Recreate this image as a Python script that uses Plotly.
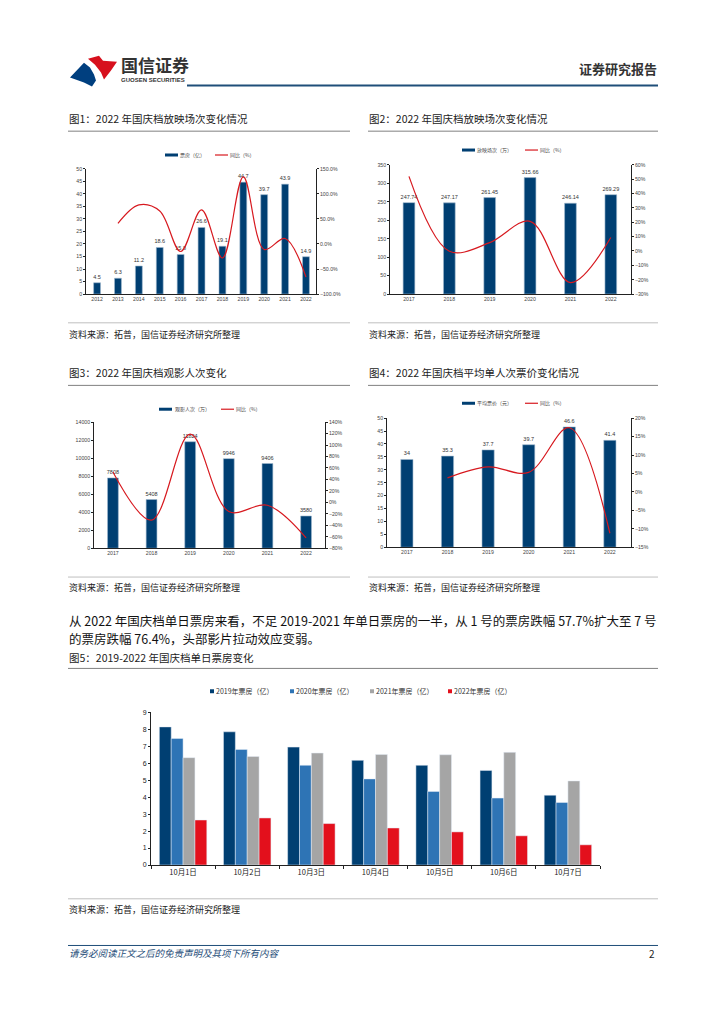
import plotly.graph_objects as go

# The page body has an 8px margin, so the figure is placed at (8, 8) of the window.
OFF = 8
W, H = 708, 1008
def X(px): return (px - OFF) / W
def Y(py): return 1 - (py - OFF) / H

NAVY = "#003f72"
RED = "#d7191f"
FONT = "Noto Sans CJK SC, Liberation Sans, sans-serif"

# ---------------- data ----------------
years1 = ["2012", "2013", "2014", "2015", "2016", "2017", "2018", "2019", "2020", "2021", "2022"]
box1 = [4.5, 6.3, 11.2, 18.6, 15.8, 26.6, 19.1, 44.7, 39.7, 43.9, 14.9]
yoy1 = [None, 41, 78, 66, -15, 68, -28, 134, -11, 11, -66]

years2 = ["2017", "2018", "2019", "2020", "2021", "2022"]
shows2 = [247.74, 247.17, 261.45, 315.66, 246.14, 269.29]
yoy2 = [52, -0.2, 5.8, 20.7, -22, 9.4]

years3 = ["2017", "2018", "2019", "2020", "2021", "2022"]
viewers3 = [7808, 5408, 11824, 9946, 9406, 3580]
yoy3 = [53, -31, 119, -16, -5, -62]

years4 = ["2017", "2018", "2019", "2020", "2021", "2022"]
price4 = [34, 35.3, 37.7, 39.7, 46.6, 41.4]
yoy4 = [None, 3.8, 6.8, 5.3, 17.4, -11.2]

days5 = ["10月1日", "10月2日", "10月3日", "10月4日", "10月5日", "10月6日", "10月7日"]
s2019 = [8.13, 7.84, 6.94, 6.16, 5.87, 5.57, 4.11]
s2020 = [7.45, 6.80, 5.87, 5.07, 4.33, 3.94, 3.68]
s2021 = [6.32, 6.39, 6.59, 6.51, 6.49, 6.63, 4.95]
s2022 = [2.65, 2.77, 2.44, 2.18, 1.95, 1.72, 1.19]
series5 = [("2019年票房（亿）", s2019, "#003f72"),
           ("2020年票房（亿）", s2020, "#2e74b5"),
           ("2021年票房（亿）", s2021, "#a5a5a5"),
           ("2022年票房（亿）", s2022, "#e3101c")]

fig = go.Figure()
layout = {}
shapes = []
annotations = []

def txt(x, y, s, size=9, color="#222", xanchor="left", yanchor="middle", bold=False, italic=False, family=FONT):
    if bold:
        s = "<b>" + s + "</b>"
    if italic:
        s = "<i>" + s + "</i>"
    annotations.append(dict(x=X(x), y=Y(y), xref="paper", yref="paper", text=s, showarrow=False,
                            xanchor=xanchor, yanchor=yanchor, borderpad=0,
                            font=dict(size=size, color=color, family=family)))

def hline(x0, x1, y, color="#808080", width=1):
    shapes.append(dict(type="line", xref="paper", yref="paper", x0=X(x0), x1=X(x1), y0=Y(y), y1=Y(y),
                       line=dict(color=color, width=width)))

def poly(pts, color):
    p = "M " + " L ".join(f"{X(a):.5f},{Y(b):.5f}" for a, b in pts) + " Z"
    shapes.append(dict(type="path", xref="paper", yref="paper", path=p, fillcolor=color, line=dict(width=0)))

def combo(idx, cats, bars, line, box, xr, yl, yr, ldt, rdt, rfmt, bw, lblfmt):
    xa = "x" if idx == 1 else f"x{idx}"
    ya = f"y{2*idx-1}" if idx > 1 else "y"
    yb = f"y{2*idx}"
    fig.add_trace(go.Bar(x=cats, y=bars, xaxis=xa, yaxis=ya, marker_color=NAVY, width=bw,
                         marker_line=dict(color="#9fb8cf", width=0.6),
                         text=[lblfmt(v) for v in bars], textposition="outside", cliponaxis=False,
                         constraintext="none",
                         textfont=dict(size=5.5, color="#333", family="Liberation Sans"), showlegend=False))
    fig.add_trace(go.Scatter(x=cats, y=line, xaxis=xa, yaxis=yb, mode="lines",
                             line=dict(color=RED, width=1.2, shape="spline", smoothing=1.0), showlegend=False))
    x0, x1, ytop, ybot = box
    tf = dict(size=5.2, color="#444", family="Liberation Sans")
    layout["xaxis" if idx == 1 else f"xaxis{idx}"] = dict(
        domain=[X(x0), X(x1)], anchor=ya, type="category", range=xr, showline=True, linecolor="#222",
        linewidth=0.8, ticks="", tickfont=tf, showgrid=False, zeroline=False, fixedrange=True)
    layout["yaxis" if idx == 1 else f"yaxis{2*idx-1}"] = dict(
        domain=[Y(ybot), Y(ytop)], anchor=xa, range=yl, dtick=ldt, tick0=0, showline=True, linecolor="#222",
        linewidth=0.8, ticks="outside", ticklen=2, tickcolor="#222", tickwidth=0.6, tickfont=tf,
        tickformat="d", showgrid=False, zeroline=False)
    layout[f"yaxis{2*idx}"] = dict(
        overlaying=ya, anchor=xa, side="right", range=yr, dtick=rdt, tick0=yr[0], showline=True,
        linecolor="#222", linewidth=0.8, ticks="outside", ticklen=2, tickcolor="#222", tickwidth=0.6,
        tickfont=tf, tickformat=rfmt, ticksuffix="%", showgrid=False, zeroline=False)

def legend_pair(xb, xt1, xl, xt2, y, name1, name2):
    hline(xb, xb + 13, y, NAVY, 3)
    txt(xt1, y, name1, size=5, color="#444")
    hline(xl, xl + 13, y, RED, 1.2)
    txt(xt2, y, name2, size=5, color="#444")

combo(1, years1, box1, yoy1, (86, 316, 166, 292), [-0.53, 10.48], [0, 50], [-100, 150], 5, 50, ".1f", 0.33,
      lambda v: f"{v:g}")
legend_pair(165, 179, 215, 229, 152, "票房（亿）", "同比（%）")

combo(2, years2, shows2, yoy2, (390, 631, 162, 292), [-0.47, 5.5], [0, 350], [-30, 60], 50, 10, "d", 0.29,
      lambda v: f"{v:.2f}")
legend_pair(462, 476, 525, 539, 147, "放映场次（万）", "同比（%）")

combo(3, years3, viewers3, yoy3, (94, 325, 421, 548), [-0.49, 5.49], [0, 14000], [-80, 140], 2000, 20, "d", 0.28,
      lambda v: f"{v:d}")
legend_pair(159, 174, 221, 235, 408, "观影人次（万）", "同比（%）")

combo(4, years4, price4, yoy4, (387, 631, 417, 547), [-0.49, 5.52], [0, 50], [-15, 20], 5, 5, "d", 0.3,
      lambda v: f"{v:g}")
legend_pair(462, 476, 525, 539, 402, "平均票价（元）", "同比（%）")

# ---------------- chart 5 ----------------
for name, vals, col in series5:
    fig.add_trace(go.Bar(x=days5, y=vals, name=name, xaxis="x5", yaxis="y9", marker_color=col, showlegend=False))
layout["xaxis5"] = dict(domain=[X(151), X(600)], anchor="y9", type="category", range=[-0.5, 6.5], showline=True,
                        linecolor="#222", linewidth=0.8, ticks="outside", tickson="boundaries", ticklen=3,
                        tickcolor="#222", tickwidth=0.6, tickfont=dict(size=7.5, color="#222", family=FONT),
                        showgrid=False, zeroline=False)
layout["yaxis9"] = dict(domain=[Y(867), Y(713)], anchor="x5", range=[0, 9], dtick=1, showline=True,
                        linecolor="#222", linewidth=0.8, ticks="outside", ticklen=2, tickcolor="#222",
                        tickwidth=0.6, tickfont=dict(size=7, color="#222", family="Liberation Sans"),
                        showgrid=False, zeroline=False)
leg_x = [210, 290, 370, 448]
for (name, vals, col), lx in zip(series5, leg_x):
    shapes.append(dict(type="rect", xref="paper", yref="paper", x0=X(lx), x1=X(lx + 4), y0=Y(694), y1=Y(690),
                       fillcolor=col, line=dict(width=0)))
    txt(lx + 5, 692, name, size=7, color="#333")

# ---------------- page furniture ----------------
poly([(88, 55), (99, 52), (103, 57), (117, 58), (111, 67), (104, 76), (101, 69), (95, 61)], "#d7101d")
poly([(70, 74), (84, 59), (90, 64), (94, 71), (96, 77), (92, 83), (84, 79)], "#003f7f")
txt(120, 61, "国信证券", size=17, color="#333", bold=True)
txt(120, 76, "GUOSEN SECURITIES", size=6, color="#333", bold=True, family="Liberation Sans")
hline(187, 658, 82, "#1f4e79", 2)
txt(658, 65, "证券研究报告", size=13, color="#333", xanchor="right", bold=True)

txt(68, 115, "图1：2022 年国庆档放映场次变化情况", size=10.5)
hline(68, 350, 128)
txt(368, 115, "图2：2022 年国庆档放映场次变化情况", size=10.5)
hline(368, 658, 128)
hline(68, 350, 321, "#bfbfbf")
hline(368, 658, 321, "#bfbfbf")
txt(68, 333, "资料来源：拓普，国信证券经济研究所整理", size=9)
txt(368, 333, "资料来源：拓普，国信证券经济研究所整理", size=9)

txt(68, 371, "图3：2022 年国庆档观影人次变化", size=10.5)
hline(68, 350, 384)
txt(368, 371, "图4：2022 年国庆档平均单人次票价变化情况", size=10.5)
hline(368, 658, 384)
hline(68, 350, 577, "#bfbfbf")
hline(368, 658, 577, "#bfbfbf")
txt(68, 588, "资料来源：拓普，国信证券经济研究所整理", size=9)
txt(368, 588, "资料来源：拓普，国信证券经济研究所整理", size=9)

txt(68, 621, "从 2022 年国庆档单日票房来看，不足 2019-2021 年单日票房的一半，从 1 号的票房跌幅 57.7%扩大至 7 号", size=12.5, color="#111")
txt(68, 639, "的票房跌幅 76.4%，头部影片拉动效应变弱。", size=12.5, color="#111")
txt(68, 658, "图5：2019-2022 年国庆档单日票房变化", size=10.5)
hline(68, 658, 669)
hline(68, 658, 901, "#bfbfbf")
txt(68, 912, "资料来源：拓普，国信证券经济研究所整理", size=9)

hline(68, 658, 948, "#1f4e79", 1)
txt(68, 956, "请务必阅读正文之后的免责声明及其项下所有内容", size=9.5, color="#1f4e79", italic=True)
txt(656, 956, "2", size=10, color="#222", xanchor="right")

fig.update_layout(width=W, height=H, margin=dict(l=0, r=0, t=0, b=0), paper_bgcolor="white",
                  plot_bgcolor="white", bargap=0.26, bargroupgap=0, barmode="group",
                  font=dict(family=FONT), shapes=shapes, annotations=annotations, **layout)
fig.write_html("out.html")
